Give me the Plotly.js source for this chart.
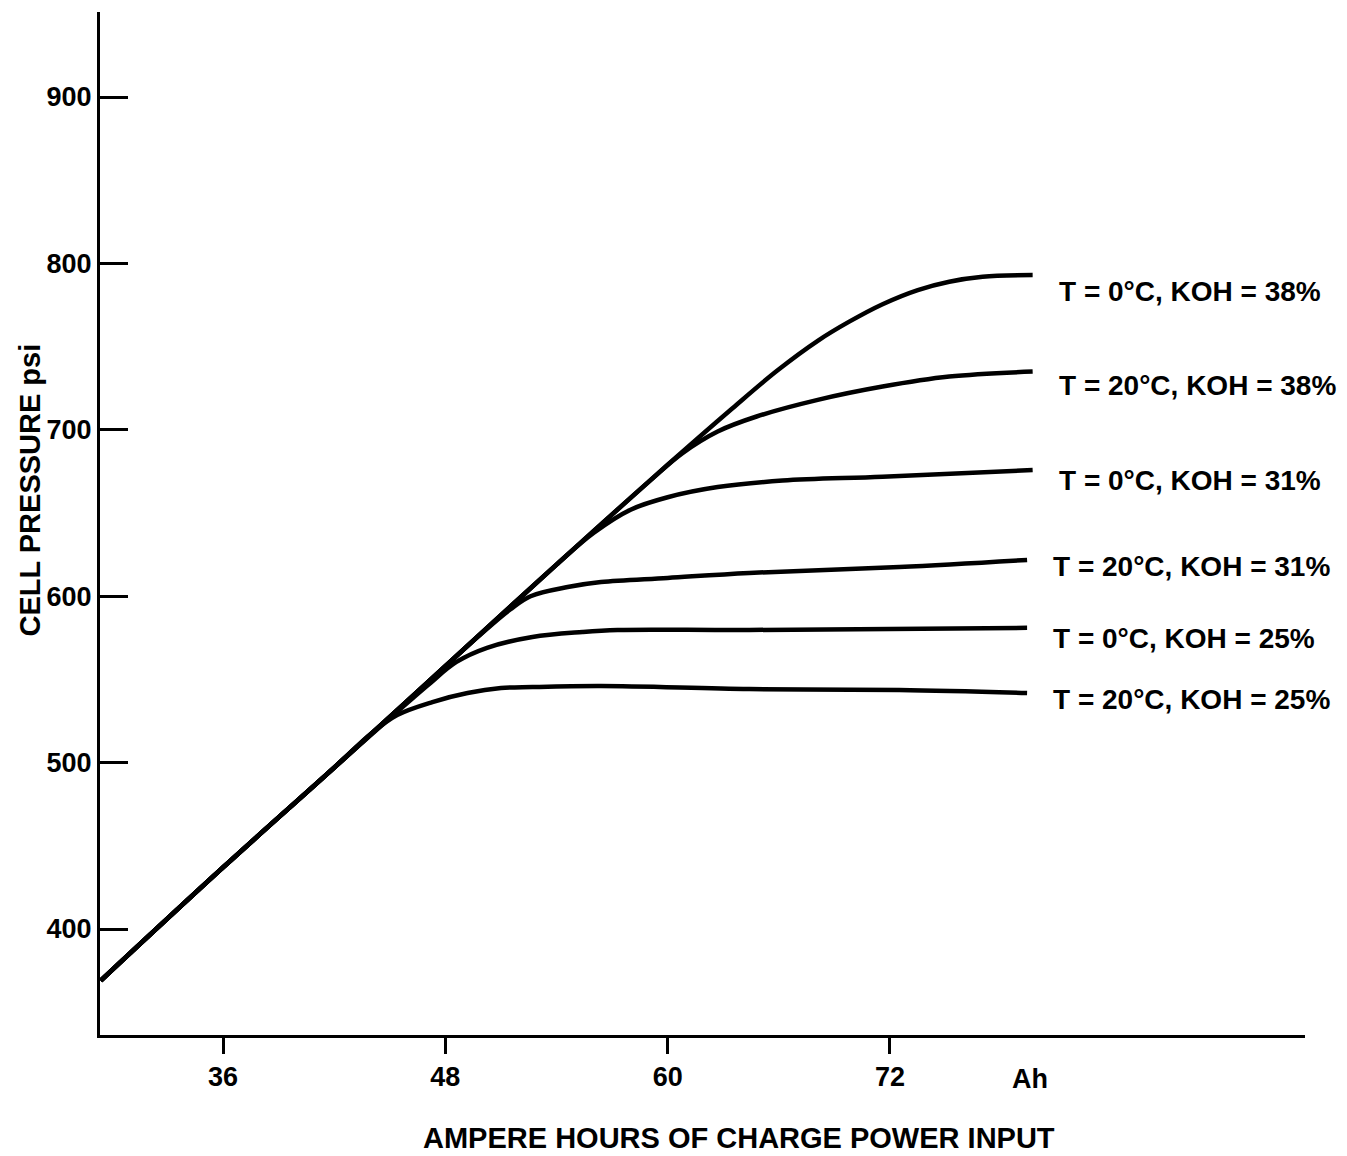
<!DOCTYPE html>
<html>
<head>
<meta charset="utf-8">
<script src="https://cdn.plot.ly/plotly-3.0.1.min.js"></script>
<style>html,body{margin:0;padding:0;background:#fff;}#chart{width:1347px;height:1156px;}</style>
</head>
<body>
<div id="chart"></div>
<script>
// Ampere hours of charge input (Ah) and cell pressure (psi) per condition
const seriesNames = [
  "T = 0°C, KOH = 38%",
  "T = 20°C, KOH = 38%",
  "T = 0°C, KOH = 31%",
  "T = 20°C, KOH = 31%",
  "T = 0°C, KOH = 25%",
  "T = 20°C, KOH = 25%"
];

const ah_t0_koh38 = [29.4, 36, 42, 48, 54, 60, 63.5, 65.9, 68.1, 69.8, 71.6, 73.5, 75.2, 77.0, 79.7];
const psi_t0_koh38 = [369, 437, 497, 558, 619, 679, 713, 735.5, 753.5, 765, 775.5, 784, 789, 792, 793];

const ah_t20_koh38 = [29.4, 36, 42, 48, 54, 59, 60.8, 62.7, 64.8, 68.1, 71.6, 75.2, 79.7];
const psi_t20_koh38 = [369, 437, 497, 558, 619, 669, 686, 699, 708, 718, 726, 732, 735];

const ah_t0_koh31 = [29.4, 36, 42, 48, 54, 56, 58, 60, 62.7, 66.2, 71.6, 79.7];
const psi_t0_koh31 = [369, 437, 497, 558, 619, 638, 652, 659.5, 665.6, 669.5, 671.8, 675.8];

const ah_t20_koh31 = [29.4, 36, 42, 48, 50, 51.5, 52.6, 54.6, 56.4, 60, 64.4, 72.5, 79.4];
const psi_t20_koh31 = [369, 437, 497, 558, 578, 592, 600, 605.5, 608.5, 611, 614, 617.5, 621.8];

const ah_t0_koh25 = [29.4, 36, 42, 47, 48.6, 50.25, 52.7, 55.4, 57.3, 64.4, 79.4];
const psi_t0_koh25 = [369, 437, 497, 546, 560.5, 569, 575.5, 578.5, 579.7, 579.7, 581];

const ah_t20_koh25 = [29.4, 36, 42, 44.0, 45.4, 47.3, 49.2, 51, 52.7, 56.4, 64.4, 72.5, 79.4];
const psi_t20_koh25 = [369, 437, 497, 517.5, 528.6, 536.4, 541.8, 544.8, 545.4, 546, 544.2, 543.6, 541.8];

const xTickVals = [36, 48, 60, 72];
const xTickText = ["36", "48", "60", "72"];
const yTickVals = [400, 500, 600, 700, 800, 900];
const yTickText = ["400", "500", "600", "700", "800", "900"];
const xUnitLabel = "Ah";
const xUnitAt = 79.55;
const xTitle = "AMPERE HOURS OF CHARGE POWER INPUT";
const yTitle = "CELL PRESSURE psi";

const xs = [ah_t0_koh38, ah_t20_koh38, ah_t0_koh31, ah_t20_koh31, ah_t0_koh25, ah_t20_koh25];
const ys = [psi_t0_koh38, psi_t20_koh38, psi_t0_koh31, psi_t20_koh31, psi_t0_koh25, psi_t20_koh25];

const FONT = "Liberation Sans, Arial, Helvetica, sans-serif";
const labelShift = [-16, -14, -10, -7, -11, -6];

const traces = xs.map((x, i) => ({
  type: "scatter",
  mode: "lines",
  x: x,
  y: ys[i],
  name: seriesNames[i],
  line: {color: "#000", width: 4.5, shape: "spline", smoothing: 1},
  hoverinfo: "skip",
  showlegend: false
}));

const annotations = xs.map((x, i) => ({
  xref: "x", yref: "y",
  x: x[x.length - 1] + 1.3,
  y: ys[i][ys[i].length - 1],
  yshift: labelShift[i],
  text: seriesNames[i],
  showarrow: false,
  xanchor: "left", yanchor: "middle",
  font: {family: FONT, size: 28, color: "#000", weight: 700}
}));

annotations.push({
  xref: "x", yref: "paper",
  x: xUnitAt, y: 0, yshift: -44,
  text: xUnitLabel, showarrow: false,
  xanchor: "center", yanchor: "middle",
  font: {family: FONT, size: 27, color: "#000", weight: 700}
});

// axis titles placed as annotations to match the original's offsets
annotations.push({
  xref: "paper", yref: "paper",
  x: 0.53, y: 0, yshift: -103,
  text: xTitle, showarrow: false,
  xanchor: "center", yanchor: "middle",
  font: {family: FONT, size: 29, color: "#000", weight: 700}
});
annotations.push({
  xref: "paper", yref: "paper",
  x: 0, xshift: -71, y: 0.5, yshift: 33,
  text: yTitle, showarrow: false, textangle: -90,
  xanchor: "center", yanchor: "middle",
  font: {family: FONT, size: 29, color: "#000", weight: 700}
});

const layout = {
  width: 1347, height: 1156,
  margin: {l: 100, r: 42, t: 12, b: 121, pad: 0},
  paper_bgcolor: "#fff", plot_bgcolor: "#fff",
  showlegend: false,
  font: {family: FONT, color: "#000"},
  xaxis: {
    range: [29.36, 94.4],
    showgrid: false, zeroline: false,
    showline: true, linecolor: "#000", linewidth: 3,
    ticks: "outside", ticklen: 16, tickwidth: 3, tickcolor: "#000",
    tickmode: "array", tickvals: xTickVals, ticktext: xTickText,
    tickfont: {family: FONT, size: 27, color: "#000", weight: 700}
  },
  yaxis: {
    range: [336.3, 951.1],
    showgrid: false, zeroline: false,
    showline: true, linecolor: "#000", linewidth: 3,
    ticks: "inside", ticklen: 28, tickwidth: 3, tickcolor: "#000",
    tickmode: "array", tickvals: yTickVals, ticktext: yTickText,
    tickfont: {family: FONT, size: 27, color: "#000", weight: 700}
  },
  annotations: annotations
};

Plotly.newPlot("chart", traces, layout, {staticPlot: true, displayModeBar: false});
</script>
</body>
</html>
